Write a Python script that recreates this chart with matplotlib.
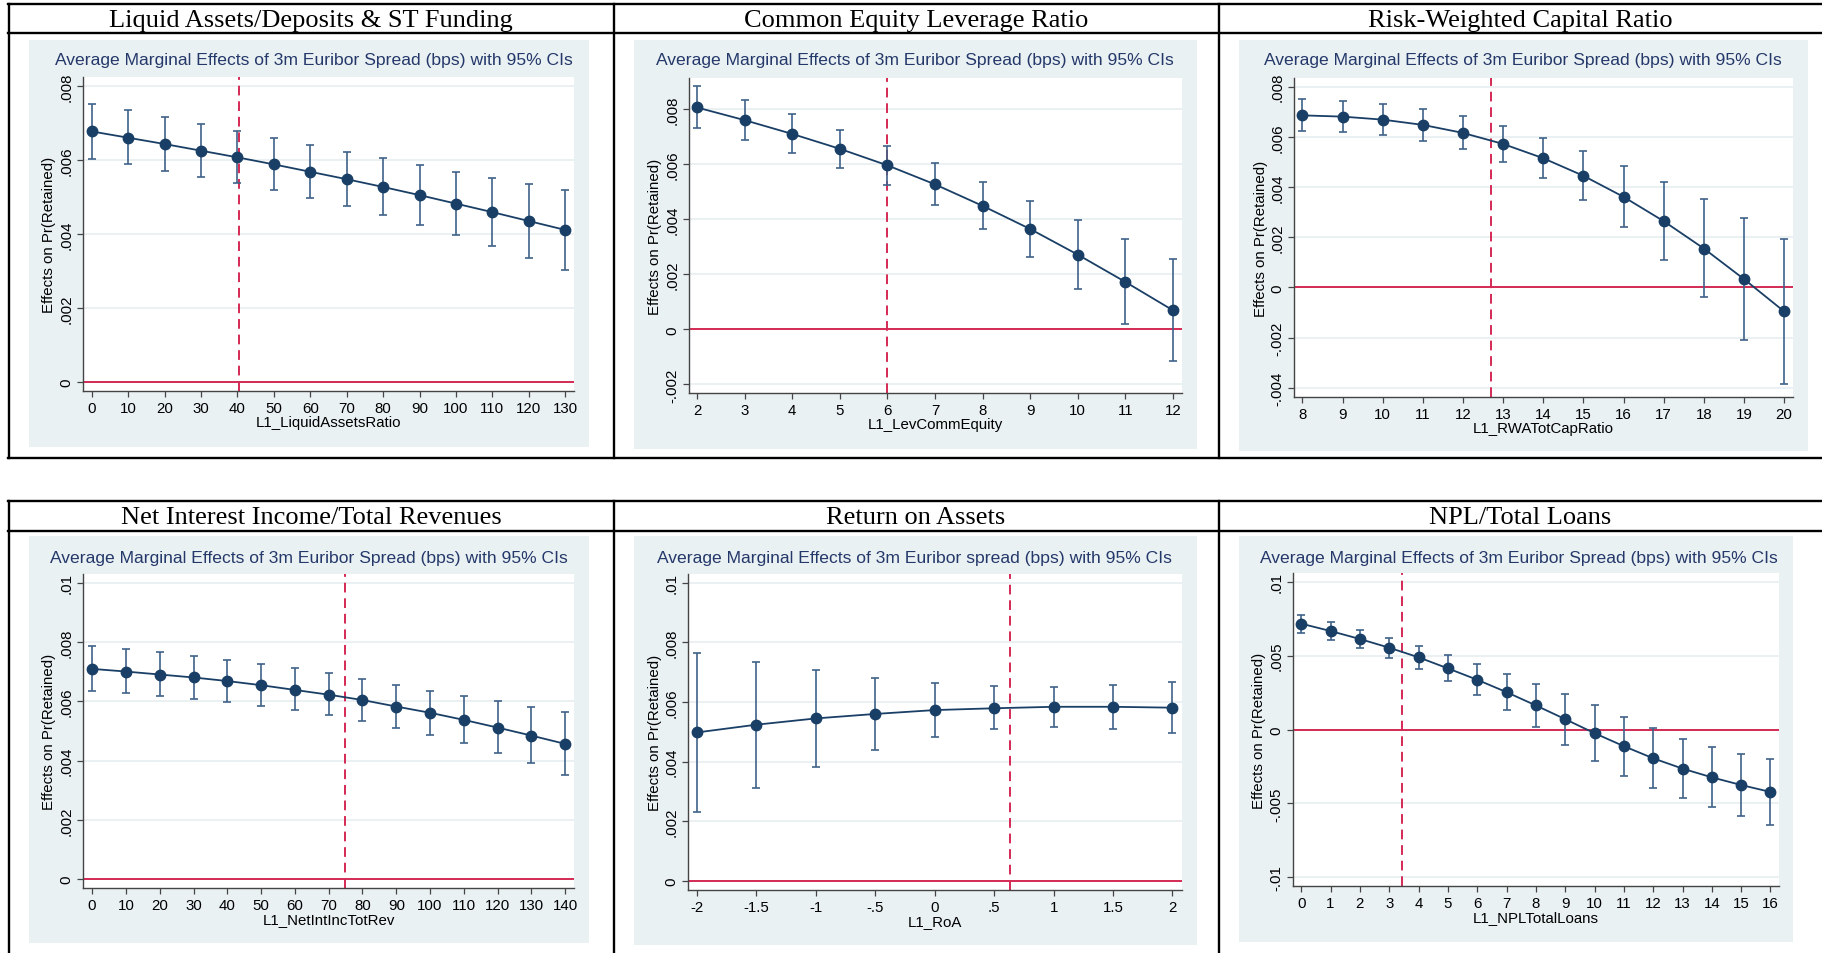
"""Six Stata-style marginal effects panels laid out in a bordered table."""
import matplotlib
matplotlib.use("Agg")
import matplotlib.pyplot as plt
from matplotlib.lines import Line2D
from matplotlib.patches import Rectangle
from matplotlib.ticker import FuncFormatter

W, H = 1822, 954

# ---- data ----
liq_x = [0, 10, 20, 30, 40, 50, 60, 70, 80, 90, 100, 110, 120, 130]
liq_y = [.00677, .00660, .00643, .00625, .00607, .00588, .00568, .00548,
         .00527, .00505, .00482, .00459, .00435, .00411]
liq_hi = [.00752, .00734, .00716, .00697, .00678, .00659, .00640, .00622,
          .00604, .00586, .00568, .00551, .00535, .00520]
liq_lo = [.00603, .00588, .00571, .00555, .00538, .00518, .00497, .00476,
          .00451, .00425, .00397, .00368, .00336, .00302]

lev_x = [2, 3, 4, 5, 6, 7, 8, 9, 10, 11, 12]
lev_y = [.00805, .00759, .00709, .00655, .00595, .00526, .00448, .00364,
         .00271, .00172, .00069]
lev_hi = [.00882, .00833, .00781, .00725, .00666, .00602, .00534, .00465,
          .00396, .00328, .00255]
lev_lo = [.00729, .00688, .00641, .00586, .00524, .00451, .00364, .00263,
          .00147, .00019, -.00115]

rwa_x = [8, 9, 10, 11, 12, 13, 14, 15, 16, 17, 18, 19, 20]
rwa_y = [.00686, .00681, .00669, .00648, .00616, .00572, .00515, .00445,
         .00361, .00264, .00155, .00033, -.00096]
rwa_hi = [.00751, .00745, .00731, .00711, .00682, .00644, .00597, .00543,
          .00483, .00421, .00352, .00277, .00195]
rwa_lo = [.00622, .00618, .00608, .00585, .00551, .00500, .00435, .00349,
          .00240, .00110, -.00040, -.00208, -.00385]

nii_x = [0, 10, 20, 30, 40, 50, 60, 70, 80, 90, 100, 110, 120, 130, 140]
nii_y = [.00709, .00700, .00690, .00680, .00668, .00654, .00638, .00622,
         .00604, .00582, .00561, .00537, .00511, .00484, .00456]
nii_hi = [.00786, .00776, .00766, .00753, .00740, .00727, .00711, .00694,
          .00675, .00655, .00636, .00617, .00599, .00581, .00563]
nii_lo = [.00634, .00626, .00618, .00608, .00597, .00583, .00570, .00552,
          .00533, .00511, .00486, .00458, .00426, .00390, .00350]

roa_x = [-2, -1.5, -1, -.5, 0, .5, 1, 1.5, 2]
roa_y = [.00498, .00524, .00545, .00560, .00573, .00579, .00584, .00584, .00581]
roa_hi = [.00765, .00735, .00707, .00682, .00664, .00652, .00651, .00657, .00667]
roa_lo = [.00233, .00313, .00383, .00440, .00482, .00508, .00516, .00510, .00496]

npl_x = list(range(17))
npl_y = [.00717, .00667, .00613, .00554, .00489, .00414, .00337, .00253,
         .00163, .00070, -.00025, -.00113, -.00195, -.00265, -.00324,
         -.00376, -.00423]
npl_hi = [.00778, .00728, .00676, .00622, .00563, .00502, .00441, .00376,
          .00310, .00242, .00167, .00086, .00007, -.00063, -.00120,
          -.00165, -.00199]
npl_lo = [.00656, .00606, .00550, .00486, .00412, .00328, .00233, .00131,
          .00018, -.00102, -.00215, -.00312, -.00396, -.00466, -.00527,
          -.00588, -.00647]

titles = ["Liquid Assets/Deposits & ST Funding", "Common Equity Leverage Ratio",
          "Risk-Weighted Capital Ratio", "Net Interest Income/Total Revenues",
          "Return on Assets", "NPL/Total Loans"]
xlabels = ["L1_LiquidAssetsRatio", "L1_LevCommEquity", "L1_RWATotCapRatio",
           "L1_NetIntIncTotRev", "L1_RoA", "L1_NPLTotalLoans"]
sub = "Average Marginal Effects of 3m Euribor Spread (bps) with 95% CIs"
sub_roa = "Average Marginal Effects of 3m Euribor spread (bps) with 95% CIs"
subtitles = [sub, sub, sub, sub, sub_roa, sub]
ref_lines = [40.4, 6.0, 12.7, 74.7, 0.635, 3.45]

yticks = [[0, .002, .004, .006, .008],
          [-.002, 0, .002, .004, .006, .008],
          [-.004, -.002, 0, .002, .004, .006, .008],
          [0, .002, .004, .006, .008, .01],
          [0, .002, .004, .006, .008, .01],
          [-.01, -.005, 0, .005, .01]]
xticks = [list(range(0, 131, 10)), list(range(2, 13)), list(range(8, 21)),
          list(range(0, 141, 10)), [-2, -1.5, -1, -.5, 0, .5, 1, 1.5, 2],
          list(range(17))]

# ---- layout in pixels ----
ylims = [(-.00024, .00824), (-.00231, .00912), (-.00437, .00835),
         (-.0003, .01029), (-.0003, .01029), (-.0106, .0106)]
xlims = [(-2.4, 132.4), (1.83, 12.19), (7.79, 20.22),
         (-2.7, 142.6), (-2.075, 2.08), (-0.28, 16.29)]
axes_px = [(83, 78, 574, 392), (689, 79, 1182, 394), (1294, 79, 1793, 398),
           (83, 575, 574, 889), (688, 575, 1182, 891), (1293, 574, 1779, 887)]
bg_px = [(29, 41, 589, 448), (634, 41, 1197, 450), (1239, 41, 1808, 452),
         (29, 537, 589, 944), (634, 537, 1197, 946), (1239, 537, 1793, 943)]
sub_xy = [(314, 60), (915, 60), (1523, 60), (309, 558), (914, 558), (1519, 558)]
title_xy = [(311, 21), (916, 21), (1520, 21), (311, 518), (916, 518), (1520, 518)]

NAVY = "#1a3f66"
CI = "#3f6289"
RED = "#d42a55"
BG = "#eaf1f3"
SUBC = "#24386a"


def fx(x):
    return x / W


def fy(y):
    return 1 - y / H


def stata_fmt(v, pos=None):
    s = "%g" % v
    if s.startswith("0.") and s != "0":
        s = s[1:]
    elif s.startswith("-0."):
        s = "-" + s[2:]
    return s


fig = plt.figure(figsize=(W / 100, H / 100), dpi=100)
plt.rcParams["font.family"] = ["Liberation Sans", "DejaVu Sans"]

# table borders
lw_tab = 1.7
for yy in (5, 34, 459, 502, 532):
    fig.add_artist(Line2D([fx(8), 1], [fy(yy), fy(yy)], color="black",
                          lw=lw_tab, transform=fig.transFigure))
for xx in (9, 614, 1219):
    fig.add_artist(Line2D([fx(xx), fx(xx)], [fy(5), fy(459)], color="black",
                          lw=lw_tab, transform=fig.transFigure))
    fig.add_artist(Line2D([fx(xx), fx(xx)], [fy(502), 0], color="black",
                          lw=lw_tab, transform=fig.transFigure))

series = [(liq_x, liq_y, liq_lo, liq_hi), (lev_x, lev_y, lev_lo, lev_hi),
          (rwa_x, rwa_y, rwa_lo, rwa_hi), (nii_x, nii_y, nii_lo, nii_hi),
          (roa_x, roa_y, roa_lo, roa_hi), (npl_x, npl_y, npl_lo, npl_hi)]

for i, (xs, ys, lo, hi) in enumerate(series):
    bx0, by0, bx1, by1 = bg_px[i]
    fig.add_artist(Rectangle((fx(bx0), fy(by1)), fx(bx1 - bx0), (by1 - by0) / H,
                             facecolor=BG, edgecolor="none",
                             transform=fig.transFigure, zorder=0))
    tx, ty = title_xy[i]
    fig.text(fx(tx), fy(ty), titles[i], ha="center", va="center",
             family="Liberation Serif", fontsize=19, color="black")
    sx, sy = sub_xy[i]
    fig.text(fx(sx), fy(sy), subtitles[i], ha="center", va="center",
             fontsize=12.6, color=SUBC)

    ax0, ay0, ax1, ay1 = axes_px[i]
    ax = fig.add_axes([fx(ax0), fy(ay1), (ax1 - ax0) / W, (ay1 - ay0) / H])
    ax.set_facecolor("white")
    for side in ("top", "right"):
        ax.spines[side].set_visible(False)
    for side in ("left", "bottom"):
        ax.spines[side].set_color("#444444")
        ax.spines[side].set_linewidth(1.0)

    ax.set_xlim(*xlims[i])
    ax.set_ylim(*ylims[i])
    ax.set_yticks(yticks[i])
    ax.set_xticks(xticks[i])
    ax.yaxis.set_major_formatter(FuncFormatter(stata_fmt))
    ax.xaxis.set_major_formatter(FuncFormatter(stata_fmt))
    ax.tick_params(axis="both", direction="out", length=4, width=0.9,
                   color="#444444", labelsize=10.8, pad=3)
    for lab in ax.get_yticklabels():
        lab.set_rotation(90)
        lab.set_va("center")
    ax.grid(axis="y", color="#e6eeef", lw=1.1)
    ax.set_axisbelow(True)

    ax.axhline(0, color=RED, lw=1.4, zorder=2)
    ax.axvline(ref_lines[i], color=RED, lw=1.4, ls=(0, (5, 3)), zorder=2)

    yerr = [[y - l for y, l in zip(ys, lo)], [h - y for y, h in zip(ys, hi)]]
    ax.errorbar(xs, ys, yerr=yerr, fmt="none", ecolor=CI, elinewidth=1.2,
                capsize=3, capthick=1.2, zorder=3)
    ax.plot(xs, ys, color=NAVY, lw=1.3, marker="o", markersize=7.5,
            markerfacecolor=NAVY, markeredgecolor=NAVY, zorder=4)

    ax.set_xlabel(xlabels[i], fontsize=10.8, labelpad=0)
    ax.set_ylabel("Effects on Pr(Retained)", fontsize=10.8, labelpad=2)

fig.savefig("out.png", dpi=100)
